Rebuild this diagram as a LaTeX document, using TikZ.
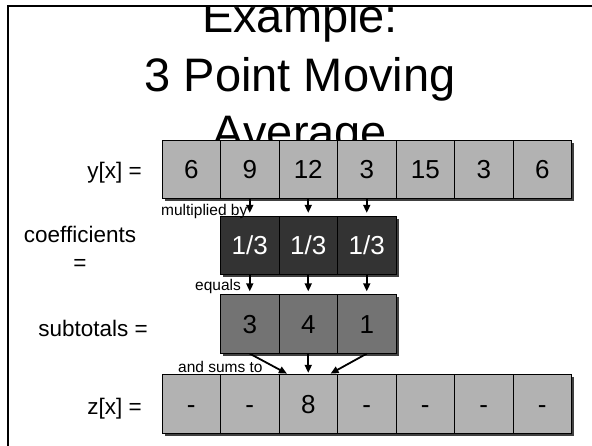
\documentclass[tikz,border=0pt]{standalone}
\usepackage{fontspec}
\setmainfont{Liberation Sans}
\usetikzlibrary{arrows.meta,shadows}

\begin{document}
\begin{tikzpicture}[x=1pt, y=-1pt,
    cell/.style={draw, line width=0.8pt, minimum width=58.5pt, minimum height=58.5pt,
      inner sep=0pt, text height=18.6pt, text depth=0pt, font=\fontsize{26}{31}\selectfont,
      drop shadow={shadow xshift=2.5pt, shadow yshift=-2.5pt, fill=black!75, opacity=1}},
    valbox/.style={cell, fill=black!30},
    coefbox/.style={cell, fill=black!80, text=white},
    subbox/.style={cell, fill=black!55},
    title/.style={font=\fontsize{47}{56}\selectfont, inner sep=0pt},
    lbl/.style={font=\fontsize{22.5}{27}\selectfont, inner sep=0pt},
    note/.style={font=\fontsize{15.5}{18}\selectfont, inner sep=0pt},
    arr/.style={line width=1.8pt, -{Triangle[length=8pt,width=7pt]}}]
  \useasboundingbox (0,0) rectangle (592,446);
  % title, cut off by the frame and hidden by the first row
  \begin{scope}
    \clip (0,6) rectangle (592,446);
    \node[title, anchor=base] (t1) at (300,33) {Example:};
    \node[title, anchor=base] (t2) at (300,92) {3 Point Moving};
    \node[title, anchor=base] (t3) at (300,149) {Average};
  \end{scope}
  \draw[line width=2.2pt] (8,446) |- (592,6);
  % rows of cells
  \foreach \v [count=\i] in {6,9,12,3,15,3,6}
    \node[valbox] (y\i) at ({162+58.5*(\i-0.5)},169.5) {\v};
  \foreach \i in {1,2,3}
    \node[coefbox] (c\i) at ({220.5+58.5*(\i-0.5)},245.5) {1/3};
  \foreach \v [count=\i] in {3,4,1}
    \node[subbox] (s\i) at ({220.5+58.5*(\i-0.5)},324) {\v};
  \foreach \v [count=\i] in {-,-,8,-,-,-,-}
    \node[valbox] (z\i) at ({162+58.5*(\i-0.5)},404) {\v};
  % row labels
  \node[lbl, anchor=base east] (ylbl) at (142,179) {y[x] =};
  \node[lbl, anchor=base] (clbl) at (80,243) {coefficients};
  \node[lbl, anchor=base] (ceq) at (80,271) {=};
  \node[lbl, anchor=base east] (slbl) at (148,337) {subtotals =};
  \node[lbl, anchor=base east] (zlbl) at (142,414) {z[x] =};
  % arrows and their notes
  \foreach \a/\b in {y2/c1,y3/c2,y4/c3}
    \draw[arr, shorten >=3pt] (\a.south) -- (\b.north);
  \foreach \a/\b in {c1/s1,c2/s2,c3/s3}
    \draw[arr, shorten >=3pt] (\a.south) -- (\b.north);
  \coordinate (zl) at ([xshift=-20pt]z3.north);
  \coordinate (zr) at ([xshift=21pt]z3.north);
  \draw[arr, shorten >=1.5pt] (s1.south) -- (zl);
  \draw[arr, shorten >=1.5pt] (s2.south) -- (z3.north);
  \draw[arr, shorten >=1.5pt] (s3.south) -- (zr);
  \node[note, anchor=west] (mult) at (161,211) {multiplied by};
  \node[note, anchor=west] (eq) at (195,286) {equals};
  \node[note, anchor=west] (sums) at (178,367) {and sums to};
\end{tikzpicture}
\end{document}
